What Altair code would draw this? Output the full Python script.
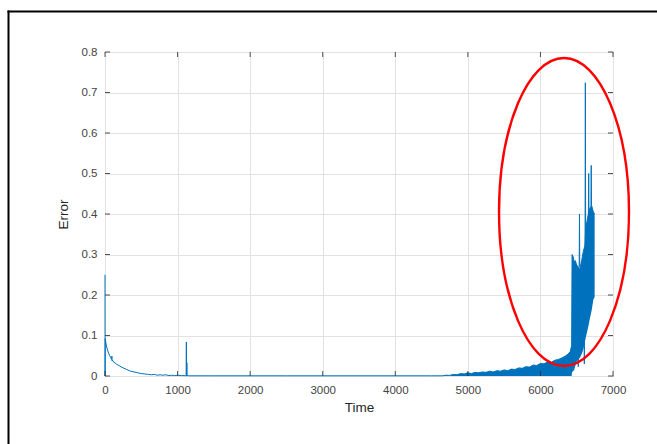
import altair as alt
import pandas as pd

# ---------------- data ----------------
x_ticks = [0, 1000, 2000, 3000, 4000, 5000, 6000, 7000]
y_ticks = [0, 0.1, 0.2, 0.3, 0.4, 0.5, 0.6, 0.7, 0.8]

# sparse part of the error trace
t_main = [0, 1, 3, 10, 20, 35, 50, 65, 80, 90,
          95, 98, 104, 120, 140, 160, 200, 250, 300, 350,
          400, 450, 500, 550, 600, 640, 680, 720, 760, 800,
          840, 880, 920, 960, 1000, 1050, 1100, 1118, 1121, 1124,
          1128, 1131, 1135, 1160, 1500, 2000, 2500, 3000, 3500, 4000,
          4500, 4650]
e_main = [0.25, 0.0, 0.092, 0.084, 0.074, 0.064, 0.056, 0.050, 0.045, 0.041,
          0.049, 0.037, 0.039, 0.034, 0.032, 0.029, 0.025, 0.020, 0.016, 0.012,
          0.010, 0.008, 0.006, 0.005, 0.004, 0.003, 0.004, 0.002, 0.003, 0.002,
          0.003, 0.001, 0.002, 0.001, 0.002, 0.001, 0.001, 0.0, 0.084, 0.0,
          0.033, 0.0, 0.001, 0.0005, 0.0005, 0.0005, 0.0005, 0.0005, 0.0005, 0.0005,
          0.0005, 0.0005]

# dense (oscillating) part of the trace: lower / upper envelope
t_band = [4650, 4700, 4750, 4800, 4850, 4900, 4950, 5000, 5050, 5100,
          5150, 5200, 5250, 5300, 5350, 5400, 5450, 5500, 5550, 5600,
          5650, 5700, 5750, 5800, 5850, 5900, 5950, 6000, 6050, 6100,
          6150, 6200, 6250, 6300, 6340, 6380, 6410, 6430,
          6436, 6450, 6465, 6480, 6500, 6520, 6545, 6570, 6590, 6614,
          6625, 6640, 6660, 6683, 6707, 6729, 6747]
hi_band = [0.0005, 0.002, 0.0015, 0.004, 0.003, 0.006, 0.005, 0.008, 0.006, 0.009,
           0.008, 0.010, 0.009, 0.012, 0.010, 0.013, 0.012, 0.015, 0.013, 0.017,
           0.016, 0.020, 0.019, 0.023, 0.022, 0.027, 0.026, 0.031, 0.030, 0.035,
           0.034, 0.039, 0.041, 0.045, 0.049, 0.054, 0.060, 0.075,
           0.300, 0.295, 0.282, 0.285, 0.274, 0.270, 0.265, 0.286, 0.307, 0.323,
           0.369, 0.380, 0.400, 0.415, 0.420, 0.405, 0.400]
lo_band = [0.0, 0.0, 0.0, 0.0, 0.0, 0.0, 0.0, 0.0, 0.0, 0.0,
           0.0, 0.0, 0.0, 0.0, 0.0, 0.0, 0.0, 0.0, 0.0, 0.0,
           0.0, 0.0, 0.0, 0.0, 0.0, 0.0, 0.0, 0.0, 0.0, 0.0,
           0.0, 0.0, 0.0, 0.0, 0.0, 0.0, 0.0, 0.0,
           0.010, 0.012, 0.015, 0.025, 0.035, 0.040, 0.045, 0.055, 0.065, 0.085,
           0.095, 0.106, 0.122, 0.143, 0.163, 0.188, 0.195]

# individual spikes within the dense part
t_spk = [6518, 6522, 6526, 6534, 6538, 6542, 6601, 6605, 6609,
         6615, 6619, 6623, 6661, 6665, 6669, 6696, 6700, 6704]
e_spk = [0.25, 0.023, 0.25, 0.27, 0.40, 0.27, 0.30, 0.03, 0.30,
         0.32, 0.724, 0.34, 0.40, 0.50, 0.40, 0.41, 0.52, 0.42]
g_spk = [1, 1, 1, 2, 2, 2, 3, 3, 3, 4, 4, 4, 5, 5, 5, 6, 6, 6]

# red ellipse annotation (centre, data units)
ell_t = [6325]
ell_e = [0.405]

# ---------------- styling ----------------
BLUE = "#0072BD"
AX = "#262626"
W, H = 508, 324
ELLIPSE = ("M 0 -1 C 0.2331 -1 0.422 -0.5523 0.422 0 "
           "C 0.422 0.5523 0.2331 1 0 1 "
           "C -0.2331 1 -0.422 0.5523 -0.422 0 "
           "C -0.422 -0.5523 -0.2331 -1 0 -1 Z")

xs = alt.Scale(domain=[0, 7000], nice=False, zero=False)
ys = alt.Scale(domain=[0, 0.8], nice=False)
x_axis = alt.Axis(values=x_ticks, format="d", grid=True, ticks=False,
                  labelFlush=False, labelPadding=8, titlePadding=5)
y_axis = alt.Axis(values=y_ticks, format=".1~f", grid=True, ticks=False,
                  labelFlush=False, labelPadding=8, titlePadding=11)


def X(field="t"):
    return alt.X(f"{field}:Q", scale=xs, title="Time", axis=x_axis)


def Y(field="e"):
    return alt.Y(f"{field}:Q", scale=ys, title="Error", axis=y_axis)


df_main = pd.DataFrame({"t": t_main, "e": e_main})
df_band = pd.DataFrame({"t": t_band, "e": hi_band, "lo": lo_band})
df_spk = pd.DataFrame({"t": t_spk, "e": e_spk, "g": g_spk})
df_xt = pd.DataFrame({"t": x_ticks})
df_yt = pd.DataFrame({"e": y_ticks})
df_ell = pd.DataFrame({"t": ell_t, "e": ell_e})
df_one = pd.DataFrame({"a": [0]})

band = alt.Chart(df_band).mark_area(color=BLUE, opacity=1).encode(
    x=X(), y=Y(), y2="lo:Q")
band_edge = alt.Chart(df_band).mark_line(color=BLUE, strokeWidth=1).encode(
    x=X(), y=Y())
main = alt.Chart(df_main).mark_line(color=BLUE, strokeWidth=1).encode(
    x=X(), y=Y())
spikes = alt.Chart(df_spk).mark_line(color=BLUE, strokeWidth=1).encode(
    x=X(), y=Y(), detail="g:N")

tick_b = alt.Chart(df_xt).mark_rule(color=AX, strokeWidth=0.8).encode(
    x=X(), y=alt.value(H), y2=alt.value(H - 5))
tick_t = alt.Chart(df_xt).mark_rule(color=AX, strokeWidth=0.8).encode(
    x=X(), y=alt.value(0), y2=alt.value(5))
tick_l = alt.Chart(df_yt).mark_rule(color=AX, strokeWidth=0.8).encode(
    y=Y(), x=alt.value(0), x2=alt.value(5))
tick_r = alt.Chart(df_yt).mark_rule(color=AX, strokeWidth=0.8).encode(
    y=Y(), x=alt.value(W), x2=alt.value(W - 5))

ellipse = alt.Chart(df_ell).mark_point(
    shape=ELLIPSE, size=94864, filled=False, color="#ff0000",
    strokeWidth=2.4, opacity=1
).encode(x=X(), y=Y())

frame_l = alt.Chart(df_one).mark_rule(color="black", strokeWidth=2).encode(
    x=alt.value(-96.5), y=alt.value(-41.5), y2=alt.value(H + 100))
frame_t = alt.Chart(df_one).mark_rule(color="black", strokeWidth=2).encode(
    x=alt.value(-97.5), x2=alt.value(W + 100), y=alt.value(-40.5))

chart = alt.layer(
    band, band_edge, main, spikes, tick_b, tick_t, tick_l, tick_r,
    ellipse, frame_l, frame_t
).properties(
    width=W, height=H,
    padding={"left": 105, "top": 52, "right": 44, "bottom": 68},
    autosize=alt.AutoSizeParams(type="none"),
    background="white",
).configure_view(
    stroke=AX, strokeWidth=1
).configure_axis(
    domain=False,
    gridColor="#e2e2e2", gridWidth=1,
    labelFont="Liberation Sans", labelFontSize=11.5, labelColor="#444444",
    titleFont="Liberation Sans", titleFontSize=13.5, titleFontWeight="normal",
    titleColor="#262626",
)

chart.save("out.html", embed_options={"renderer": "svg", "actions": False})
